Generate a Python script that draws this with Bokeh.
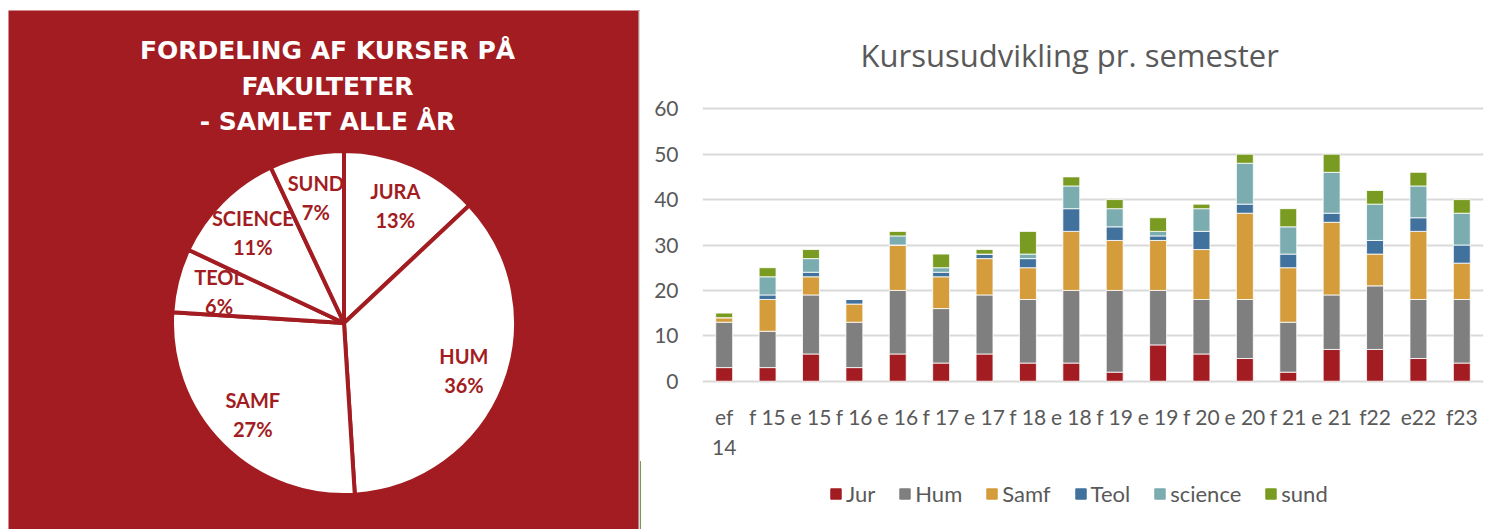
import math
from bokeh.plotting import figure
from bokeh.models import ColumnDataSource, Range1d, FactorRange, Legend, LegendItem, FixedTicker, Span
from bokeh.layouts import row, column
from bokeh.embed import file_html
from bokeh.resources import INLINE
from bokeh.core.properties import value

# ---------------- data ----------------
pie_labels = ["JURA", "HUM", "SAMF", "TEOL", "SCIENCE", "SUND"]
pie_pct = [13, 36, 27, 6, 11, 7]

semesters = ["ef 14", "f 15", "e 15", "f 16", "e 16", "f 17", "e 17", "f 18", "e 18",
             "f 19", "e 19", "f 20", "e 20", "f 21", "e 21", "f22", "e22", "f23"]
jur     = [3, 3, 6, 3, 6, 4, 6, 4, 4, 2, 8, 6, 5, 2, 7, 7, 5, 4]
hum     = [10, 8, 13, 10, 14, 12, 13, 14, 16, 18, 12, 12, 13, 11, 12, 14, 13, 14]
samf    = [1, 7, 4, 4, 10, 7, 8, 7, 13, 11, 11, 11, 19, 12, 16, 7, 15, 8]
teol    = [0, 1, 1, 1, 0, 1, 1, 2, 5, 3, 1, 4, 2, 3, 2, 3, 3, 4]
science = [0, 4, 3, 0, 2, 1, 0, 1, 5, 4, 1, 5, 9, 6, 9, 8, 7, 7]
sund    = [1, 2, 2, 0, 1, 3, 1, 5, 2, 2, 3, 1, 2, 4, 4, 3, 3, 3]
series_names = ["Jur", "Hum", "Samf", "Teol", "science", "sund"]

RED = "#A21C21"
GRAY_TXT = "#595959"
colors = [RED, "#7F7F7F", "#D49C3B", "#41729D", "#7BACB0", "#799B21"]

# ---------------- left: pie ----------------
FW, FH = 632, 519          # frame size (red area + 2px separator)
p1 = figure(width=640, height=529, x_range=Range1d(0, FW), y_range=Range1d(0, FH),
            output_backend="svg", toolbar_location=None,
            x_axis_location=None, y_axis_location=None,
            min_border_left=8, min_border_top=10, min_border_right=0, min_border_bottom=0)
p1.frame_align = False
p1.background_fill_color = RED
p1.border_fill_color = "white"
p1.outline_line_color = None
p1.grid.visible = False
p1.add_layout(Span(location=631, dimension="height", line_color="#D9D9D9", line_width=2))

cx, cy, R = 335.5, 206.5, 172
total = float(sum(pie_pct))
starts, ends, lx, ly = [], [], [], []
cum = 0.0
for v in pie_pct:
    a0 = math.pi / 2 - 2 * math.pi * cum / total
    cum += v
    a1 = math.pi / 2 - 2 * math.pi * cum / total
    starts.append(a0)
    ends.append(a1)
    mid = (a0 + a1) / 2
    lx.append(cx + 0.75 * R * math.cos(mid))
    ly.append(cy + 0.75 * R * math.sin(mid))

pie_src = ColumnDataSource(dict(start=starts, end=ends, lab=pie_labels,
                                pct=[f"{v}%" for v in pie_pct],
                                lx=lx, ly_name=[y + 14 for y in ly], ly_pct=[y - 15 for y in ly]))
p1.wedge(x=cx, y=cy, radius=R, start_angle="start", end_angle="end", direction="clock",
         fill_color="white", line_color=RED, line_width=4, source=pie_src)
for col in ["ly_name", "ly_pct"]:
    p1.text(x="lx", y=col, text="lab" if col == "ly_name" else "pct", source=pie_src,
            text_font=value("Lato"), text_font_style="bold", text_font_size="20px",
            text_color=RED, text_align="center", text_baseline="middle")

title_lines = ["FORDELING AF KURSER PÅ", "FAKULTETER", "- SAMLET ALLE ÅR"]
p1.text(x=[319, 319, 319], y=[479, 443, 408], text=title_lines,
        text_font=value("DejaVu Sans"), text_font_style="bold", text_font_size="25px",
        text_color="white", text_align="center", text_baseline="middle")

# ---------------- right: stacked bars ----------------
factors = [s.replace(" ", "\n") if s == "ef 14" else s for s in semesters]
src = ColumnDataSource(dict(sem=factors, Jur=jur, Hum=hum, Samf=samf, Teol=teol,
                            science=science, sund=sund))
p2 = figure(width=864, height=461, x_range=FactorRange(*factors), y_range=Range1d(-0.5, 60.5),
            title="Kursusudvikling pr. semester",
            output_backend="svg", toolbar_location=None,
            min_border_left=62, min_border_right=21, min_border_top=106, min_border_bottom=78)
p2.frame_align = False
p2.outline_line_color = None
p2.title.align = "left"
p2.title.offset = 158
p2.title.text_font = "Open Sans"
p2.title.text_font_style = "normal"
p2.title.text_font_size = "31px"
p2.title.text_color = GRAY_TXT
p2.title.standoff = 62

rs = p2.vbar_stack(series_names, x="sem", width=0.39, color=colors, source=src,
                   line_color="white", line_width=0.8)

p2.yaxis.ticker = FixedTicker(ticks=[0, 10, 20, 30, 40, 50, 60])
p2.ygrid.ticker = FixedTicker(ticks=[0, 10, 20, 30, 40, 50, 60])
p2.ygrid.grid_line_color = "#D9D9D9"
p2.ygrid.grid_line_width = 2
p2.xgrid.visible = False
for ax in [p2.xaxis[0], p2.yaxis[0]]:
    ax.axis_line_color = None
    ax.major_tick_line_color = None
    ax.minor_tick_line_color = None
    ax.major_label_text_font = "Lato"
    ax.major_label_text_font_size = "21px"
    ax.major_label_text_color = GRAY_TXT
p2.yaxis.major_label_standoff = 18
p2.xaxis.major_label_standoff = 14

# ---------------- legend strip ----------------
p3 = figure(width=864, height=68, x_range=Range1d(0, 1), y_range=Range1d(0, 1),
            output_backend="svg", toolbar_location=None,
            x_axis_location=None, y_axis_location=None, min_border=0)
p3.frame_align = False
p3.outline_line_color = None
p3.grid.visible = False
# legend-only renderers, placed outside the visible range
leg_r = [p3.vbar(x=[-10], top=[1], width=0.5, color=c) for c in colors]
legend = Legend(items=[LegendItem(label=n, renderers=[r]) for n, r in zip(series_names, leg_r)],
                orientation="horizontal", location=(189, 22),
                glyph_width=13, glyph_height=13, label_standoff=4, spacing=23,
                label_text_font="Lato", label_text_font_size="22px", label_text_color=GRAY_TXT,
                border_line_color=None, background_fill_alpha=0, padding=4, margin=0)
p3.add_layout(legend, "center")

right = column(p2, p3, spacing=0)
layout = row(p1, right, spacing=0)
open("out.html", "w").write(file_html(layout, INLINE))
